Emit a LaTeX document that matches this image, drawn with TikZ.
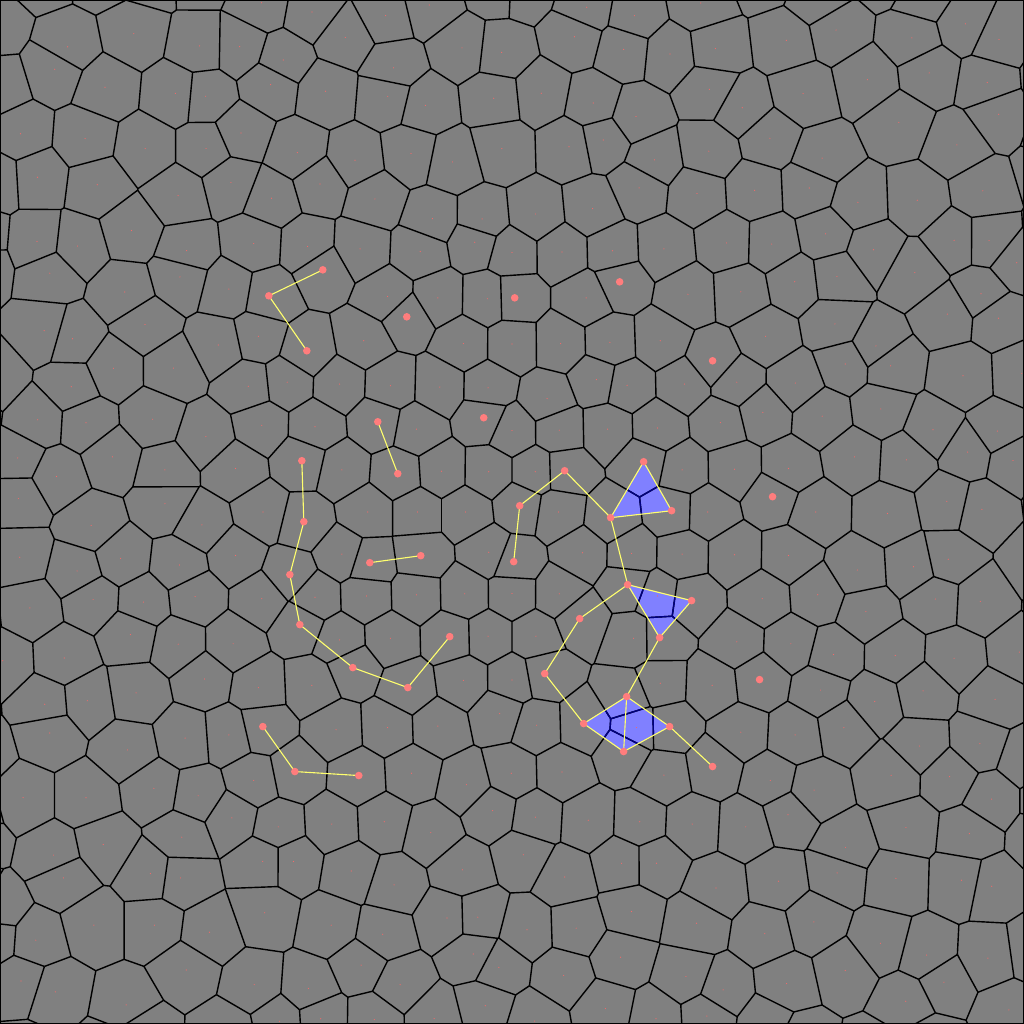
\documentclass[tikz,border=0pt]{standalone}
\definecolor{bg}{RGB}{128,128,128}
\definecolor{dotred}{RGB}{255,125,125}
\definecolor{sitered}{RGB}{245,105,105}
\definecolor{lineyel}{RGB}{255,255,110}
\definecolor{trifill}{RGB}{128,128,255}
\definecolor{navyedge}{RGB}{0,0,128}
\tikzset{
  celledge/.style={line width=0.014cm},
  link/.style={draw=lineyel,line width=0.011cm},
  bigdot/.style={fill=dotred},
  tri/.style={fill=trifill}
}
\def\vS{0.53}\def\kA{0.86}\def\kB{0.03}\def\vJ{0.28}
\def\speciallist{a/323/270,b/269/296,c/307/351,d/407/317,e/515/298,f/620/282,g/713/361,h/484/418,k/773/497,l/760/680,m/378/422,n/398/474,p1/302/461,p2/304/522,p3/290/575,p4/300/625,p5/353/668,p6/408/688,p7/450/637,q1/370/563,q2/421/556,r1/514/562,r2/520/506,r3/565/471,t1/611/518,t2/644/462,t3/672/511,u1/628/585,u2/692/601,u3/660/638,v1/580/619,v2/545/674,w1/627/697,w2/584/724,w3/624/752,w4/670/727,w5/713/767,z1/263/727,z2/295/772,z3/359/776}
% circumcentre of (#1,#2),(#3,#4),(#5,#6) -> \ccx,\ccy
\newcommand\mkcircum[6]{%
  \pgfmathsetmacro\cbX{(#3)-(#1)}\pgfmathsetmacro\cbY{(#4)-(#2)}%
  \pgfmathsetmacro\ccX{(#5)-(#1)}\pgfmathsetmacro\ccY{(#6)-(#2)}%
  \pgfmathsetmacro\cdD{2*(\cbX*\ccY-\cbY*\ccX)}%
  \pgfmathsetmacro\cbB{\cbX*\cbX+\cbY*\cbY}%
  \pgfmathsetmacro\ccC{\ccX*\ccX+\ccY*\ccY}%
  \pgfmathsetmacro\ccx{(#1)+(\ccY*\cbB-\cbY*\ccC)/\cdD}%
  \pgfmathsetmacro\ccy{(#2)+(\cbX*\ccC-\ccX*\cbB)/\cdD}%
}
% is (#5,#6) strictly closer to centre (#1,#2) than vertex (#3,#4)?
\newcommand\testflip[6]{%
  \pgfmathsetmacro\tfa{((#3)-(#1))*((#3)-(#1))+((#4)-(#2))*((#4)-(#2))}%
  \pgfmathsetmacro\tfb{((#5)-(#1))*((#5)-(#1))+((#6)-(#2))*((#6)-(#2))}%
  \pgfmathtruncatemacro\flipflag{\tfb<\tfa-0.00002?1:0}%
}
\newcommand\getpt[3]{% macro-prefix i j
  \expandafter\edef\csname #1x\endcsname{\csname Px@#2@#3\endcsname}%
  \expandafter\edef\csname #1y\endcsname{\csname Py@#2@#3\endcsname}%
}
\newcommand\getEU[3]{%
  \ifcsname EUx@#1@#2@#3\endcsname
    \edef\PX{\csname EUx@#1@#2@#3\endcsname}\edef\PY{\csname EUy@#1@#2@#3\endcsname}%
  \else
    \edef\PX{\csname Ux@#1@#2\endcsname}\edef\PY{\csname Uy@#1@#2\endcsname}%
  \fi}
\newcommand\getED[3]{%
  \ifcsname EDx@#1@#2@#3\endcsname
    \edef\QX{\csname EDx@#1@#2@#3\endcsname}\edef\QY{\csname EDy@#1@#2@#3\endcsname}%
  \else
    \edef\QX{\csname Dx@#1@#2\endcsname}\edef\QY{\csname Dy@#1@#2\endcsname}%
  \fi}
\newcommand\putov[5]{% kind(EU/ED) i j k  from N#5
  \expandafter\xdef\csname #1x@#2@#3@#4\endcsname{\csname N#5x\endcsname}%
  \expandafter\xdef\csname #1y@#2@#3@#4\endcsname{\csname N#5y\endcsname}%
}
\newcommand\putfl[3]{% i j k
  \expandafter\xdef\csname FLa@#1@#2@#3\endcsname{\Nax}%
  \expandafter\xdef\csname FLb@#1@#2@#3\endcsname{\Nay}%
  \expandafter\xdef\csname FLc@#1@#2@#3\endcsname{\Nbx}%
  \expandafter\xdef\csname FLd@#1@#2@#3\endcsname{\Nby}%
}
\newcommand\drawfl[4]{%
  \edef\PX{\csname FLa@#2@#3@#4\endcsname}\edef\PY{\csname FLb@#2@#3@#4\endcsname}%
  \edef\QX{\csname FLc@#2@#3@#4\endcsname}\edef\QY{\csname FLd@#2@#3@#4\endcsname}%
  \draw[#1] (\PX,\PY)--(\QX,\QY);}
\newcommand\voroedges[1]{%
  \foreach \j in {-15,...,14}{%
    \edef\jm{\the\numexpr\j-1\relax}%
    \edef\imn{\csname IMN@\j\endcsname}%
    \edef\imxx{\the\numexpr\csname IMX@\j\endcsname-2\relax}%
    \foreach \i in {\imn,...,\imxx}{%
      \edef\im{\the\numexpr\i-1\relax}%
      \ifcsname FLa@\i @\j @0\endcsname \drawfl{#1}{\i}{\j}{0}%
      \else \getEU{\i}{\j}{0}\getED{\i}{\j}{0}\draw[#1] (\PX,\PY)--(\QX,\QY);\fi
      \ifcsname Dx@\im @\j\endcsname
        \ifcsname FLa@\i @\j @1\endcsname \drawfl{#1}{\i}{\j}{1}%
        \else \getEU{\i}{\j}{1}\getED{\im}{\j}{1}\draw[#1] (\PX,\PY)--(\QX,\QY);\fi
      \fi
      \ifcsname Dx@\i @\jm\endcsname
        \ifcsname FLa@\i @\j @2\endcsname \drawfl{#1}{\i}{\j}{2}%
        \else \getEU{\i}{\j}{2}\getED{\i}{\jm}{2}\draw[#1] (\PX,\PY)--(\QX,\QY);\fi
      \fi
    }%
  }%
}
\begin{document}
\begin{tikzpicture}
\useasboundingbox (0,0) rectangle (10.24,10.24);
\clip (0,0) rectangle (10.24,10.24);
\fill[bg] (0,0) rectangle (10.24,10.24);
% special sites as named coordinates (pixel frame)
\begin{scope}[shift={(0,10.24)},x=0.01cm,y=-0.01cm]
  \foreach \n/\sx/\sy in \speciallist {\coordinate (\n) at (\sx,\sy);}
\end{scope}
% assign special sites to lattice nodes
\foreach \n/\sx/\sy in \speciallist {
  \pgfmathsetmacro\ux{\sx/100-5.12}
  \pgfmathsetmacro\uy{(1024-\sy)/100-5.12}
  \pgfmathsetmacro\rr{max(sqrt(\ux*\ux+\uy*\uy),0.001)}
  \pgfmathsetmacro\rq{(-\kA+sqrt(\kA*\kA+4*\kB*\rr))/(2*\kB)}
  \pgfmathsetmacro\qx{\ux*\rq/\rr}
  \pgfmathsetmacro\qy{\uy*\rq/\rr}
  \pgfmathsetmacro\fJ{\qy/(\vS*0.8660254)}
  \pgfmathsetmacro\fI{\qx/\vS-0.5*\fJ}
  \pgfmathtruncatemacro\ia{floor(\fI)}
  \pgfmathtruncatemacro\ja{floor(\fJ)}
  \gdef\bestd{1000}
  \foreach \da in {0,1}{\foreach \db in {0,1}{
    \edef\ci{\the\numexpr\ia+\da\relax}
    \edef\cj{\the\numexpr\ja+\db\relax}
    \pgfmathsetmacro\ddx{((\ci)+0.5*(\cj))*\vS-\qx}
    \pgfmathsetmacro\ddy{(\cj)*\vS*0.8660254-\qy}
    \pgfmathsetmacro\dd{\ddx*\ddx+\ddy*\ddy}
    \pgfmathtruncatemacro\better{\dd<\bestd?1:0}
    \ifnum\better=1 \xdef\bestd{\dd}\xdef\besti{\ci}\xdef\bestj{\cj}\fi
  }}
  \pgfmathsetmacro\spx{\sx/100}
  \pgfmathsetmacro\spy{(1024-\sy)/100}
  \expandafter\xdef\csname SPx@\besti @\bestj\endcsname{\spx}
  \expandafter\xdef\csname SPy@\besti @\bestj\endcsname{\spy}
  \foreach \oa/\ob in {1/0,-1/0,0/1,0/-1,1/-1,-1/1}{
    \expandafter\xdef\csname NJ@\the\numexpr\besti+\oa\relax @\the\numexpr\bestj+\ob\relax\endcsname{1}
  }
}
% lattice sites
\pgfmathsetseed{2024}
\foreach \j in {-15,...,15}{
  \pgfmathtruncatemacro\imn{floor(-12.5-0.5*(\j))-1}
  \pgfmathtruncatemacro\imx{ceil(12.5-0.5*(\j))+1}
  \expandafter\xdef\csname IMN@\j\endcsname{\imn}
  \expandafter\xdef\csname IMX@\j\endcsname{\imx}
  \foreach \i in {\imn,...,\imx}{
    \ifcsname SPx@\i @\j\endcsname
      \expandafter\xdef\csname Px@\i @\j\endcsname{\csname SPx@\i @\j\endcsname}
      \expandafter\xdef\csname Py@\i @\j\endcsname{\csname SPy@\i @\j\endcsname}
    \else
      \ifcsname NJ@\i @\j\endcsname \def\jit{0}\else \def\jit{\vJ}\fi
      \pgfmathsetmacro\qx{((\i)+0.5*(\j))*\vS+\jit*\vS*rand}
      \pgfmathsetmacro\qy{(\j)*\vS*0.8660254+\jit*\vS*rand}
      \pgfmathsetmacro\ff{\kA+\kB*sqrt(\qx*\qx+\qy*\qy)}
      \pgfmathsetmacro\Tx{5.12+\qx*\ff}
      \pgfmathsetmacro\Ty{5.12+\qy*\ff}
      \expandafter\xdef\csname Px@\i @\j\endcsname{\Tx}
      \expandafter\xdef\csname Py@\i @\j\endcsname{\Ty}
    \fi
  }
}
% circumcentres of lattice triangles
\foreach \j in {-15,...,14}{
  \edef\imn{\csname IMN@\j\endcsname}
  \edef\imxx{\the\numexpr\csname IMX@\j\endcsname-2\relax}
  \edef\jp{\the\numexpr\j+1\relax}
  \foreach \i in {\imn,...,\imxx}{
    \edef\ip{\the\numexpr\i+1\relax}
    \getpt{A}{\i}{\j}\getpt{B}{\ip}{\j}\getpt{C}{\i}{\jp}\getpt{E}{\ip}{\jp}
    \mkcircum{\Ax}{\Ay}{\Bx}{\By}{\Cx}{\Cy}
    \expandafter\xdef\csname Ux@\i @\j\endcsname{\ccx}
    \expandafter\xdef\csname Uy@\i @\j\endcsname{\ccy}
    \mkcircum{\Bx}{\By}{\Ex}{\Ey}{\Cx}{\Cy}
    \expandafter\xdef\csname Dx@\i @\j\endcsname{\ccx}
    \expandafter\xdef\csname Dy@\i @\j\endcsname{\ccy}
  }
}
% Delaunay flips
\foreach \j in {-15,...,14}{
  \edef\imn{\csname IMN@\j\endcsname}
  \edef\imxx{\the\numexpr\csname IMX@\j\endcsname-2\relax}
  \edef\jp{\the\numexpr\j+1\relax}
  \edef\jm{\the\numexpr\j-1\relax}
  \foreach \i in {\imn,...,\imxx}{
    \edef\ip{\the\numexpr\i+1\relax}
    \edef\im{\the\numexpr\i-1\relax}
    \getpt{A}{\i}{\j}\getpt{B}{\ip}{\j}\getpt{C}{\i}{\jp}\getpt{E}{\ip}{\jp}
    \edef\CUx{\csname Ux@\i @\j\endcsname}\edef\CUy{\csname Uy@\i @\j\endcsname}
    \testflip{\CUx}{\CUy}{\Ax}{\Ay}{\Ex}{\Ey}
    \ifnum\flipflag=1
      \mkcircum{\Ax}{\Ay}{\Ex}{\Ey}{\Bx}{\By}\let\Nax\ccx\let\Nay\ccy
      \mkcircum{\Ax}{\Ay}{\Ex}{\Ey}{\Cx}{\Cy}\let\Nbx\ccx\let\Nby\ccy
      \putov{EU}{\i}{\j}{1}{b}\putov{EU}{\i}{\j}{2}{a}
      \putov{ED}{\i}{\j}{1}{a}\putov{ED}{\i}{\j}{2}{b}
      \putfl{\i}{\j}{0}
    \fi
    \ifcsname Dx@\im @\j\endcsname
      \getpt{W}{\im}{\jp}
      \testflip{\CUx}{\CUy}{\Bx}{\By}{\Wx}{\Wy}
      \ifnum\flipflag=1
        \mkcircum{\Bx}{\By}{\Wx}{\Wy}{\Ax}{\Ay}\let\Nax\ccx\let\Nay\ccy
        \mkcircum{\Bx}{\By}{\Wx}{\Wy}{\Cx}{\Cy}\let\Nbx\ccx\let\Nby\ccy
        \putov{EU}{\i}{\j}{0}{b}\putov{EU}{\i}{\j}{2}{a}
        \putov{ED}{\im}{\j}{0}{a}\putov{ED}{\im}{\j}{2}{b}
        \putfl{\i}{\j}{1}
      \fi
    \fi
    \ifcsname Dx@\i @\jm\endcsname
      \getpt{Z}{\ip}{\jm}
      \testflip{\CUx}{\CUy}{\Cx}{\Cy}{\Zx}{\Zy}
      \ifnum\flipflag=1
        \mkcircum{\Cx}{\Cy}{\Zx}{\Zy}{\Ax}{\Ay}\let\Nax\ccx\let\Nay\ccy
        \mkcircum{\Cx}{\Cy}{\Zx}{\Zy}{\Bx}{\By}\let\Nbx\ccx\let\Nby\ccy
        \putov{EU}{\i}{\j}{0}{b}\putov{EU}{\i}{\j}{1}{a}
        \putov{ED}{\i}{\jm}{0}{a}\putov{ED}{\i}{\jm}{1}{b}
        \putfl{\i}{\j}{2}
      \fi
    \fi
  }
}
% blue triangles
\fill[tri] (t1)--(t2)--(t3)--cycle;
\fill[tri] (u1)--(u2)--(u3)--cycle;
\fill[tri] (w1)--(w4)--(w3)--(w2)--cycle;
% cell edges
\voroedges{celledge,black}
\begin{scope}
  \clip (t1)--(t2)--(t3)--cycle (u1)--(u2)--(u3)--cycle (w1)--(w4)--(w3)--(w2)--cycle;
  \voroedges{celledge,navyedge}
\end{scope}
% links
\draw[link] (a)--(b)--(c);
\draw[link] (m)--(n);
\draw[link] (p1)--(p2)--(p3)--(p4)--(p5)--(p6)--(p7);
\draw[link] (q1)--(q2);
\draw[link] (r1)--(r2)--(r3)--(t1);
\draw[link] (t1)--(t2)--(t3)--cycle;
\draw[link] (t1)--(u1);
\draw[link] (u1)--(u2)--(u3)--cycle;
\draw[link] (u3)--(w1);
\draw[link] (u1)--(v1)--(v2)--(w2);
\draw[link] (w1)--(w4)--(w3)--(w2)--cycle;
\draw[link] (w1)--(w3);
\draw[link] (w4)--(w5);
\draw[link] (z1)--(z2)--(z3);
% site markers
\foreach \j in {-15,...,15}{
  \edef\imn{\csname IMN@\j\endcsname}
  \edef\imx{\csname IMX@\j\endcsname}
  \foreach \i in {\imn,...,\imx}{
    \edef\Tx{\csname Px@\i @\j\endcsname}\edef\Ty{\csname Py@\i @\j\endcsname}
    \fill[sitered] (\Tx,\Ty) circle (0.006);
  }
}
\foreach \n/\sx/\sy in \speciallist {\fill[bigdot] (\n) circle (0.038);}
\draw[line width=0.012cm] (0.006,0.006) rectangle (10.234,10.234);
\end{tikzpicture}
\end{document}
